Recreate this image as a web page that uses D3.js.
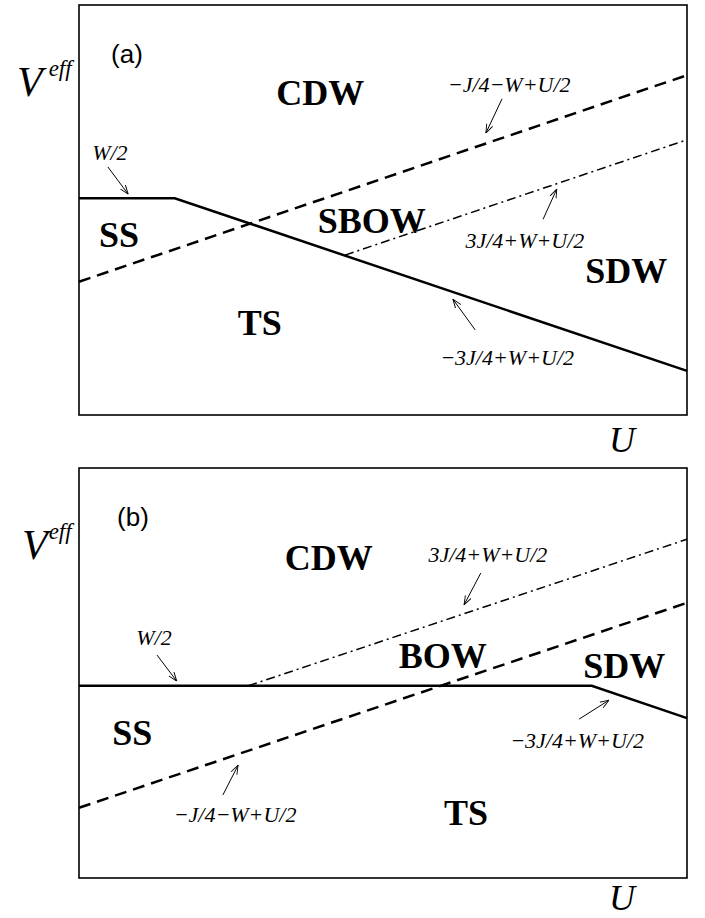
<!DOCTYPE html>
<html>
<head>
<meta charset="utf-8">
<script src="https://cdn.jsdelivr.net/npm/d3@7"></script>
<style>
  body { margin: 0; background: #fff; }
</style>
</head>
<body>
<script>
// phase boundaries, (U, V) in arbitrary units
const solidA = [[0, 4.23], [1.89, 4.23], [12, 0.86]];
const dashA = [[0, 2.6], [12, 6.63]];
const dotDashA = [[5.25, 3.12], [12, 5.37]];

const solidB = [[0, 3.75], [10.12, 3.75], [12, 3.12]];
const dashB = [[0, 1.37], [12, 5.37]];
const dotDashB = [[3.34, 3.75], [12, 6.61]];

// phase names
const phasesA = [
  ["CDW", 4.76, 6.05],
  ["SS", 0.79, 3.28],
  ["SBOW", 5.78, 3.55],
  ["SDW", 10.8, 2.58],
  ["TS", 3.57, 1.56]
];
const phasesB = [
  ["CDW", 4.93, 6.01],
  ["BOW", 7.18, 4.1],
  ["SDW", 10.76, 3.9],
  ["SS", 1.05, 2.6],
  ["TS", 7.64, 1.03]
];

// boundary formulas: text, label pos, arrow from, arrow to
const formulasA = [
  ["W/2", [0.61, 4.98], [0.57, 4.84], [0.97, 4.31]],
  ["\u2212J/4\u2212W+U/2", [8.49, 6.3], [8.35, 6.17], [8.03, 5.5]],
  ["3J/4+W+U/2", [8.8, 3.26], [9.16, 3.82], [9.43, 4.41]],
  ["\u22123J/4+W+U/2", [8.45, 0.98], [7.82, 1.66], [7.38, 2.26]]
];
const formulasB = [
  ["W/2", [1.48, 4.55], [1.54, 4.35], [1.93, 3.84]],
  ["3J/4+W+U/2", [8.07, 6.17], [7.93, 5.95], [7.6, 5.33]],
  ["\u2212J/4\u2212W+U/2", [3.08, 1.09], [2.84, 1.62], [3.14, 2.2]],
  ["\u22123J/4+W+U/2", [9.83, 2.54], [9.87, 3.1], [10.46, 3.47]]
];

const uDomain = [0, 12];
const vDomain = [0, 8];

const svg = d3.select("body").append("svg").attr("width", 705).attr("height", 918);

const defs = svg.append("defs");
defs
  .append("marker")
  .attr("id", "arr")
  .attr("viewBox", "0 -5 10 10")
  .attr("refX", 10)
  .attr("refY", 0)
  .attr("markerWidth", 9)
  .attr("markerHeight", 9)
  .attr("markerUnits", "userSpaceOnUse")
  .attr("orient", "auto")
  .append("path")
  .attr("d", "M0,-3.6L10,0L0,3.6")
  .attr("fill", "none")
  .attr("stroke", "black")
  .attr("stroke-width", 1);

const serif = "'Liberation Serif', 'Times New Roman', serif";

// p: panel layout bits that differ between (a) and (b)
function drawPanel(p, solid, dash, dotDash, phases, formulas) {
  const left = 79, width = 608, height = 410, top = p.top;
  const x = d3.scaleLinear().domain(uDomain).range([left, left + width]);
  const y = d3.scaleLinear().domain(vDomain).range([top + height, top]);
  const line = d3.line().x(d => x(d[0])).y(d => y(d[1]));
  const g = svg.append("g");

  g.append("rect")
    .attr("x", left)
    .attr("y", top)
    .attr("width", width)
    .attr("height", height)
    .attr("fill", "none")
    .attr("stroke", "black")
    .attr("stroke-width", 1.6);

  g.append("path")
    .attr("d", line(solid))
    .attr("fill", "none")
    .attr("stroke", "black")
    .attr("stroke-width", 2.5);
  g.append("path")
    .attr("d", line(dash))
    .attr("fill", "none")
    .attr("stroke", "black")
    .attr("stroke-width", 2.5)
    .attr("stroke-dasharray", "12,7");
  g.append("path")
    .attr("d", line(dotDash))
    .attr("fill", "none")
    .attr("stroke", "black")
    .attr("stroke-width", 1.5)
    .attr("stroke-dasharray", "9,4,2,4");

  g.selectAll(".phase")
    .data(phases)
    .join("text")
    .attr("class", "phase")
    .attr("x", d => x(d[1]))
    .attr("y", d => y(d[2]))
    .attr("text-anchor", "middle")
    .attr("font-family", serif)
    .attr("font-weight", "bold")
    .attr("font-size", 36)
    .text(d => d[0]);

  g.selectAll(".formula")
    .data(formulas)
    .join("text")
    .attr("class", "formula")
    .attr("x", d => x(d[1][0]))
    .attr("y", d => y(d[1][1]))
    .attr("text-anchor", "middle")
    .attr("font-family", serif)
    .attr("font-style", "italic")
    .attr("font-size", 22)
    .text(d => d[0]);

  g.selectAll(".arrow")
    .data(formulas)
    .join("line")
    .attr("class", "arrow")
    .attr("x1", d => x(d[2][0]))
    .attr("y1", d => y(d[2][1]))
    .attr("x2", d => x(d[3][0]))
    .attr("y2", d => y(d[3][1]))
    .attr("stroke", "black")
    .attr("stroke-width", 1)
    .attr("marker-end", "url(#arr)");

  // panel tag (a)/(b)
  g.append("text")
    .attr("x", p.tagX)
    .attr("y", top + 58)
    .attr("text-anchor", "middle")
    .attr("font-family", "'Liberation Sans', Arial, sans-serif")
    .attr("font-size", 26)
    .text(p.tag);

  // axis names, V^eff as one text with a raised tspan
  const vLabel = g.append("text")
    .attr("x", p.vX)
    .attr("y", top + 91)
    .attr("font-family", serif)
    .attr("font-style", "italic")
    .attr("font-size", 42)
    .text("V");
  vLabel.append("tspan")
    .attr("dx", p.effDx)
    .attr("dy", -20)
    .attr("font-size", 23)
    .text("eff");

  g.append("text")
    .attr("x", 622)
    .attr("y", top + height + p.uDy)
    .attr("text-anchor", "middle")
    .attr("font-family", serif)
    .attr("font-style", "italic")
    .attr("font-size", 36)
    .text("U");
}

drawPanel({ top: 5, tag: "(a)", tagX: 127, vX: 17, effDx: 6, uDy: 37 },
  solidA, dashA, dotDashA, phasesA, formulasA);
drawPanel({ top: 468, tag: "(b)", tagX: 133, vX: 22, effDx: 1, uDy: 32 },
  solidB, dashB, dotDashB, phasesB, formulasB);
</script>
</body>
</html>
